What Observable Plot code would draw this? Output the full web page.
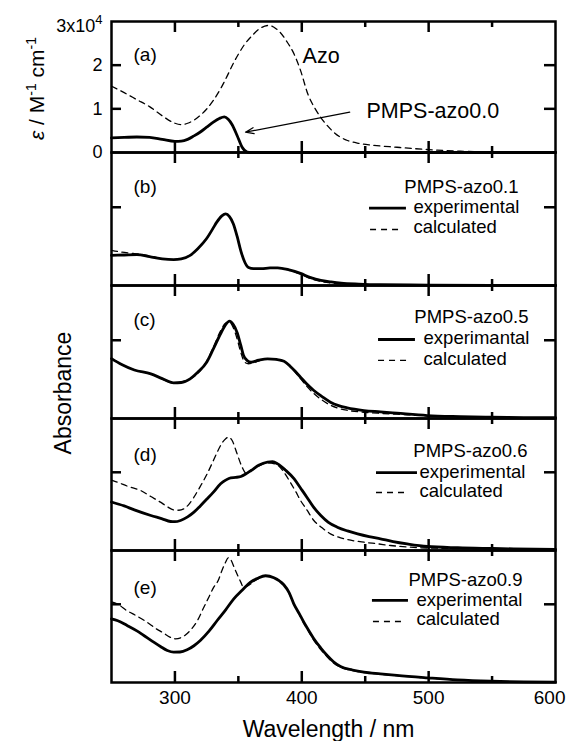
<!DOCTYPE html>
<html><head><meta charset="utf-8">
<script src="https://cdn.jsdelivr.net/npm/d3@7"></script>
<script src="https://cdn.jsdelivr.net/npm/@observablehq/plot@0.6"></script>
<style>
body{margin:0;background:#fff}
#chart{position:relative;width:566px;height:741px;overflow:hidden;background:#fff}
#chart svg{position:absolute;left:0;top:0}
</style></head><body><div id="chart"></div>
<script>
// ---------- data ----------
const majorX = [300, 400, 500];
const minorX = [350, 450, 550];
const bottomTickLabels = [300, 400, 500];
const lastTickLabel = 600;
const epsTicks = [0, 10000, 20000];
const epsTopLabel = "3x10^4";

// (a) molar absorption coefficient, M^-1 cm^-1
const azoWl  = [250,260,270,280,290,300,305,310,320,330,336,340,346,350,355,360,367,374,380,383,388,394,399,405,410,415,420,425,430,436,445,455,475,500,525,550,575,600];
const azoEps = [15200,13700,12100,10500,8400,6700,6400,6700,8500,11800,14600,16800,20400,22500,24800,26500,28400,29100,28300,27500,25500,22500,18800,13200,10300,8000,6200,4700,3600,2750,2100,1700,1200,650,300,120,40,0];
const pm00Wl  = [250,260,270,280,290,300,305,310,315,320,325,330,335,339,342,345,349,353,357,360,400,500,600];
const pm00Eps = [3350,3450,3550,3450,3000,2550,2600,3000,3800,4700,5800,6900,7800,8150,7600,6400,3900,1200,100,0,0,0,0];

// (b) PMPS-azo0.1 absorbance (arb.)
const bExpWl = [250,260,270,280,290,299,305,312,318,325,330,333,337,340,343,346,349,352,355,358,362,368,375,381,390,399,407,415,423,431,445,462,500,550,600];
const bExp   = [0.385,0.39,0.395,0.37,0.34,0.33,0.34,0.385,0.47,0.6,0.73,0.81,0.89,0.915,0.88,0.79,0.63,0.44,0.3,0.23,0.215,0.215,0.225,0.226,0.2,0.155,0.1,0.064,0.045,0.03,0.018,0.01,0.005,0.002,0];
const bCalWl = [250,257,267,275,285,292,299,305,312,318,325,330,333,337,340,343,346,349,352,355,358,362,368,375,381,390,399,407,415,423,431,445,462,500,550,600];
const bCal   = [0.45,0.43,0.41,0.395,0.36,0.34,0.33,0.34,0.385,0.47,0.6,0.73,0.81,0.89,0.915,0.88,0.79,0.63,0.44,0.3,0.23,0.215,0.215,0.225,0.226,0.195,0.145,0.088,0.052,0.033,0.022,0.014,0.008,0.004,0.002,0];

// (c) PMPS-azo0.5
const cExpWl = [250,258,268,281,290,299,305,312,318,325,330,336,340,343,346,349,352,354,357,360,366,373,380,386,391,395,399,404,409.5,416,422.6,429,435.8,449,462,475,499,525,549,575,600];
const cExp   = [0.765,0.69,0.62,0.57,0.51,0.456,0.46,0.507,0.59,0.72,0.88,1.083,1.2,1.244,1.2,1.1,0.93,0.81,0.74,0.72,0.745,0.763,0.755,0.733,0.665,0.6,0.528,0.44,0.358,0.28,0.209,0.165,0.136,0.102,0.085,0.068,0.038,0.025,0.017,0.012,0.01];
const cCalWl = [250,268,281,299,312,325,330,336,340,343,346,349,352,355,358,362,373,386,391,399,404,409.5,416,422.6,429,435.8,449,462,475,499,525,550,600];
const cCal   = [0.765,0.62,0.57,0.456,0.507,0.73,0.9,1.12,1.22,1.23,1.16,1.02,0.84,0.72,0.7,0.715,0.76,0.73,0.66,0.51,0.41,0.32,0.235,0.17,0.13,0.105,0.08,0.066,0.055,0.035,0.022,0.015,0.008];

// (d) PMPS-azo0.6
const dExpWl = [250,260,268,281,290,296.5,300,304.4,310,315,320,325.4,330,336,340,344,348,352,356,360,366,373,377,381,387,394,399,404,409,415,421,428,436,444,453,462,472,483,499,523,550,567,600];
const dExp   = [0.62,0.57,0.52,0.448,0.405,0.371,0.368,0.384,0.43,0.49,0.57,0.661,0.74,0.853,0.9,0.93,0.935,0.946,0.98,1.023,1.09,1.13,1.135,1.108,1.03,0.917,0.8,0.682,0.56,0.448,0.36,0.298,0.25,0.213,0.178,0.149,0.115,0.085,0.051,0.035,0.026,0.021,0.015];
const dCalWl = [250,254.5,263,273,281,288.6,294,299,303,307,311,315,320,325.4,330,333.3,337,340,342.5,345,349,353,356,360,366,373,380,386,391,395,399,404,409.5,416,422.6,430,436,449,460,470,483,494,510,550,600];
const dCal   = [0.9,0.874,0.82,0.767,0.69,0.618,0.56,0.52,0.515,0.533,0.59,0.682,0.82,0.98,1.14,1.257,1.37,1.43,1.449,1.41,1.236,1.065,0.99,1.02,1.08,1.12,1.1,1.0,0.87,0.76,0.64,0.52,0.384,0.29,0.213,0.165,0.14,0.106,0.085,0.064,0.045,0.035,0.028,0.02,0.012];

// (e) PMPS-azo0.9
const eExpWl = [250,255,262.3,270,275.5,282,288.6,294,299,304,309.6,315,320,327,333.3,340,346.4,353,359.6,365,371.4,378,385.8,390,393.7,398,401.6,405.5,409.5,415,420,425,430.5,440,449,462,475,499,522.6,548.8,575,600];
const eExp   = [0.814,0.79,0.729,0.66,0.601,0.53,0.46,0.41,0.388,0.39,0.418,0.47,0.537,0.66,0.793,0.93,1.07,1.18,1.283,1.33,1.365,1.34,1.25,1.15,1.006,0.88,0.771,0.665,0.559,0.44,0.345,0.265,0.205,0.16,0.132,0.11,0.09,0.06,0.034,0.017,0.008,0.004];
const eCalWl = [250,255,262,270,278,285,291.2,296,300.4,305,312,318,322.8,327,330.6,334,337,340,342,344,347,350,352,354,358,362,371.4,378,385.8,390,393.7,398,401.6,405.5,409.5,415,420,425,430.5,440,449,462,475,499,523,549,575,600];
const eCal   = [1.03,1.0,0.92,0.85,0.77,0.69,0.63,0.58,0.559,0.575,0.665,0.8,0.963,1.1,1.219,1.3,1.43,1.54,1.595,1.57,1.46,1.35,1.28,1.22,1.24,1.29,1.36,1.34,1.25,1.14,1.0,0.87,0.76,0.65,0.54,0.42,0.33,0.25,0.195,0.152,0.128,0.105,0.088,0.058,0.034,0.017,0.008,0.004];

// ---------- layout / style ----------
const W = 566, H = 741, ML = 111, MR = 11, FW = W - ML - MR;
const FONT = '"Liberation Sans", Arial, Helvetica, sans-serif';
const SOLID = {stroke: "#000", strokeWidth: 2.8, curve: "monotone-x"};
const DASH = {stroke: "#000", strokeWidth: 1.3, strokeDasharray: "6,4.5", curve: "monotone-x"};
const TK = {stroke: "#000", strokeWidth: 2.5};

const rows = (wl, v) => wl.map((x, i) => ({wl: x, v: v[i]}));

function frameMarks(h, yTicks) {
  return [
    Plot.tickX(majorX, {x: d => d, insetTop: h - 11, ...TK}),
    Plot.tickX(majorX, {x: d => d, insetBottom: h - 11, ...TK}),
    Plot.tickX(minorX, {x: d => d, insetTop: h - 6, ...TK}),
    Plot.tickX(minorX, {x: d => d, insetBottom: h - 6, ...TK}),
    Plot.tickY(yTicks, {y: d => d, insetRight: FW - 10, ...TK}),
    Plot.tickY(yTicks, {y: d => d, insetLeft: FW - 11, ...TK}),
    Plot.frame({stroke: "#000", strokeWidth: 2.5})
  ];
}

function legendMarks(L) {
  return [
    Plot.text([{x: L.titleX, y: L.titleY, t: L.title}], {x: "x", y: "y", text: "t", textAnchor: "end", lineAnchor: "bottom", fontSize: 18.5}),
    Plot.text([{x: L.entryX, y: L.expY, t: L.expLabel}, {x: L.entryX, y: L.calY, t: "calculated"}], {x: "x", y: "y", text: "t", textAnchor: "start", lineAnchor: "bottom", fontSize: 18.5}),
    Plot.ruleY([{y: L.solid[2], x1: L.solid[0], x2: L.solid[1]}], {y: "y", x1: "x1", x2: "x2", stroke: "#000", strokeWidth: 2.8}),
    Plot.ruleY([{y: L.dashed[2], x1: L.dashed[0], x2: L.dashed[1]}], {y: "y", x1: "x1", x2: "x2", stroke: "#000", strokeWidth: 1.3, strokeDasharray: "6,5"})
  ];
}

const panelLabel = (t, dy) => Plot.text([t], {text: d => d, frameAnchor: "top-left", dx: 22, dy, textAnchor: "start", lineAnchor: "bottom", fontSize: 19});

function makePanel(top, bottom, yDomain, marks) {
  return Plot.plot({
    width: W, height: H,
    marginLeft: ML, marginRight: MR, marginTop: top, marginBottom: H - bottom,
    x: {domain: [250, 600], axis: null},
    y: {domain: yDomain, axis: null},
    style: {background: "transparent", fontFamily: FONT, color: "#000", overflow: "visible"},
    marks
  });
}

const chart = document.getElementById("chart");

// panel (a)
const pa = makePanel(21, 152, [0, 30000], [
  Plot.line(rows(azoWl, azoEps), {x: "wl", y: "v", ...DASH}),
  Plot.line(rows(pm00Wl, pm00Eps), {x: "wl", y: "v", ...SOLID}),
  Plot.arrow([{x1: 437.8, y1: 9230, x2: 355.6, y2: 4650}], {x1: "x1", y1: "y1", x2: "x2", y2: "y2", stroke: "#000", strokeWidth: 1.2, headLength: 11, headAngle: 40}),
  Plot.text([{x: 400.6, y: 20600, t: "Azo"}, {x: 451, y: 8000, t: "PMPS-azo0.0"}], {x: "x", y: "y", text: "t", textAnchor: "start", lineAnchor: "bottom", fontSize: 21.5}),
  ...frameMarks(131, [10000, 20000]),
  panelLabel("(a)", 39),
  Plot.text(epsTicks, {y: d => d, text: d => String(d / 1e4), frameAnchor: "left", dx: -9, textAnchor: "end", lineAnchor: "middle", fontSize: 18}),
  Plot.text([epsTopLabel], {text: d => d, frameAnchor: "top-left", dx: -9, dy: 10.7, textAnchor: "end", lineAnchor: "bottom", fontSize: 18}),
  Plot.text(["EPSLABEL"], {text: d => d, frameAnchor: "left", dx: -68, dy: 1.5, rotate: -90, textAnchor: "middle", lineAnchor: "bottom", fontSize: 21})
]);

const pb = makePanel(152, 285, [0, 1.70], [
  Plot.line(rows(bCalWl, bCal), {x: "wl", y: "v", ...DASH}),
  Plot.line(rows(bExpWl, bExp), {x: "wl", y: "v", ...SOLID}),
  ...frameMarks(133, [1]),
  panelLabel("(b)", 40),
  ...legendMarks({title: "PMPS-azo0.1", titleX: 570.8, titleY: 1.18, entryX: 488, expLabel: "experimental", expY: 0.921, calY: 0.665, solid: [453.4, 482.5, 0.99], dashed: [454.2, 477.8, 0.716]})
]);

const pc = makePanel(285, 418, [0, 1.70], [
  Plot.line(rows(cCalWl, cCal), {x: "wl", y: "v", ...DASH}),
  Plot.line(rows(cExpWl, cExp), {x: "wl", y: "v", ...SOLID}),
  ...frameMarks(133, [1]),
  panelLabel("(c)", 40),
  ...legendMarks({title: "PMPS-azo0.5", titleX: 578.7, titleY: 1.215, entryX: 496, expLabel: "experimantal", expY: 0.946, calY: 0.69, solid: [460.5, 489.6, 1.01], dashed: [460.5, 484.1, 0.742]}),
  Plot.text(["Absorbance"], {text: d => d, frameAnchor: "left", dx: -41, dy: 41, rotate: -90, textAnchor: "middle", lineAnchor: "bottom", fontSize: 23})
]);

const pd = makePanel(418, 550, [0, 1.688], [
  Plot.line(rows(dCalWl, dCal), {x: "wl", y: "v", ...DASH}),
  Plot.line(rows(dExpWl, dExp), {x: "wl", y: "v", ...SOLID}),
  ...frameMarks(132, [1]),
  panelLabel("(d)", 42),
  ...legendMarks({title: "PMPS-azo0.6", titleX: 577.9, titleY: 1.202, entryX: 492.8, expLabel: "experimental", expY: 0.933, calY: 0.678, solid: [458.9, 491.2, 0.997], dashed: [458.9, 483.3, 0.742]})
]);

const pe = makePanel(550, 682, [0, 1.688], [
  Plot.line(rows(eCalWl, eCal), {x: "wl", y: "v", ...DASH}),
  Plot.line(rows(eExpWl, eExp), {x: "wl", y: "v", ...SOLID}),
  ...frameMarks(132, [1]),
  panelLabel("(e)", 43),
  ...legendMarks({title: "PMPS-azo0.9", titleX: 574, titleY: 1.24, entryX: 490.4, expLabel: "experimental", expY: 0.972, calY: 0.729, solid: [455.7, 484.1, 1.049], dashed: [456.5, 481.7, 0.78]}),
  Plot.text(bottomTickLabels, {x: d => d, text: d => String(d), frameAnchor: "bottom", dy: 21.3, textAnchor: "middle", lineAnchor: "bottom", fontSize: 19}),
  Plot.text([lastTickLabel], {x: d => d, text: d => String(d), frameAnchor: "bottom", dy: 21.3, dx: 10, textAnchor: "end", lineAnchor: "bottom", fontSize: 19}),
  Plot.text(["Wavelength / nm"], {text: d => d, frameAnchor: "bottom", dx: -5, dy: 54.7, textAnchor: "middle", lineAnchor: "bottom", fontSize: 23})
]);

for (const p of [pa, pb, pc, pd, pe]) chart.appendChild(p);

// rich text (italic epsilon, superscripts)
for (const t of chart.querySelectorAll("text")) {
  if (t.textContent === "EPSLABEL") {
    t.innerHTML = '<tspan font-style="italic">ε</tspan> / M<tspan dy="-8" font-size="14">-1</tspan><tspan dy="8"> cm</tspan><tspan dy="-8" font-size="14">-1</tspan>';
  } else if (t.textContent === "3x10^4") {
    t.innerHTML = '3x10<tspan dy="-8" font-size="13">4</tspan>';
  }
}
</script></body></html>
